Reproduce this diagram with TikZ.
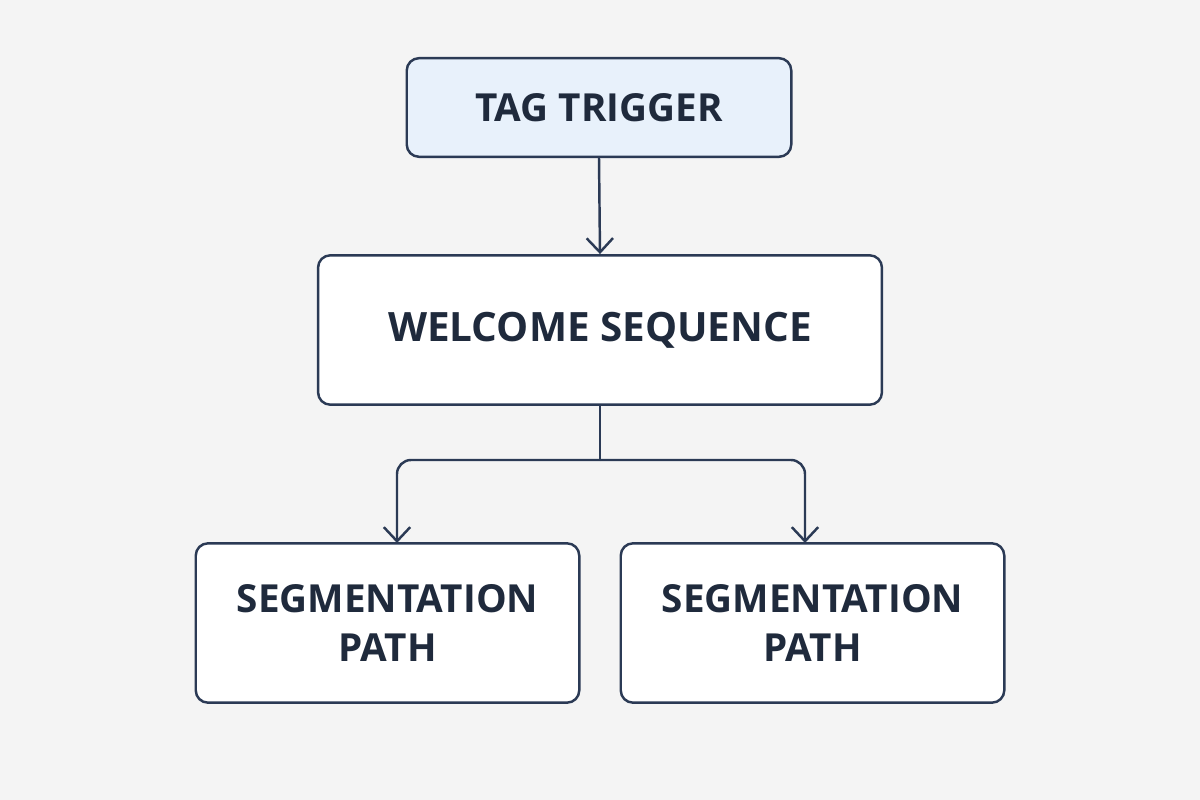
\documentclass[tikz,border=0pt]{standalone}
\usepackage{fontspec}
\setmainfont{Open Sans}
\usetikzlibrary{arrows.meta}
\definecolor{bg}{HTML}{F4F4F4}
\definecolor{ink}{HTML}{1F2A3C}
\definecolor{edge}{HTML}{2B3A55}
\definecolor{tagfill}{HTML}{E8F1FB}
\begin{document}
\begin{tikzpicture}[x=0.02cm,y=-0.02cm,
  box/.style={draw=edge,line width=1.4pt,rounded corners=7pt,fill=white,text=ink,
     font=\bfseries\fontsize{22}{28}\selectfont,align=center,inner sep=0pt},
  conn/.style={draw=edge,line width=1.4pt,-{Straight Barb[length=8pt,width=15pt,line width=1.4pt]}}]
\fill[bg] (0,0) rectangle (1200,800);
\node[box,fill=tagfill,minimum width=386*0.567pt,minimum height=99*0.567pt] (tag) at (599,107.5) {TAG TRIGGER};
\node[box,minimum width=566*0.567pt,minimum height=150*0.567pt,font=\bfseries\fontsize{23}{28}\selectfont] (wel) at (600,330) {WELCOME SEQUENCE};
\node[box,minimum width=385*0.567pt,minimum height=160*0.567pt] (l) at (387.5,623) {SEGMENTATION\\PATH};
\node[box,minimum width=385*0.567pt,minimum height=160*0.567pt] (r) at (812.5,623) {SEGMENTATION\\PATH};
\coordinate (j) at (600,460);
\coordinate (lt) at (397,543);
\coordinate (rt) at (805,543);
\draw[conn] (tag.south) -- (wel.north);
\draw[draw=edge,line width=1.4pt] (wel.south) -- (j);
\draw[conn,rounded corners=8pt] (j) -| (lt);
\draw[conn,rounded corners=8pt] (j) -| (rt);
\end{tikzpicture}
\end{document}
